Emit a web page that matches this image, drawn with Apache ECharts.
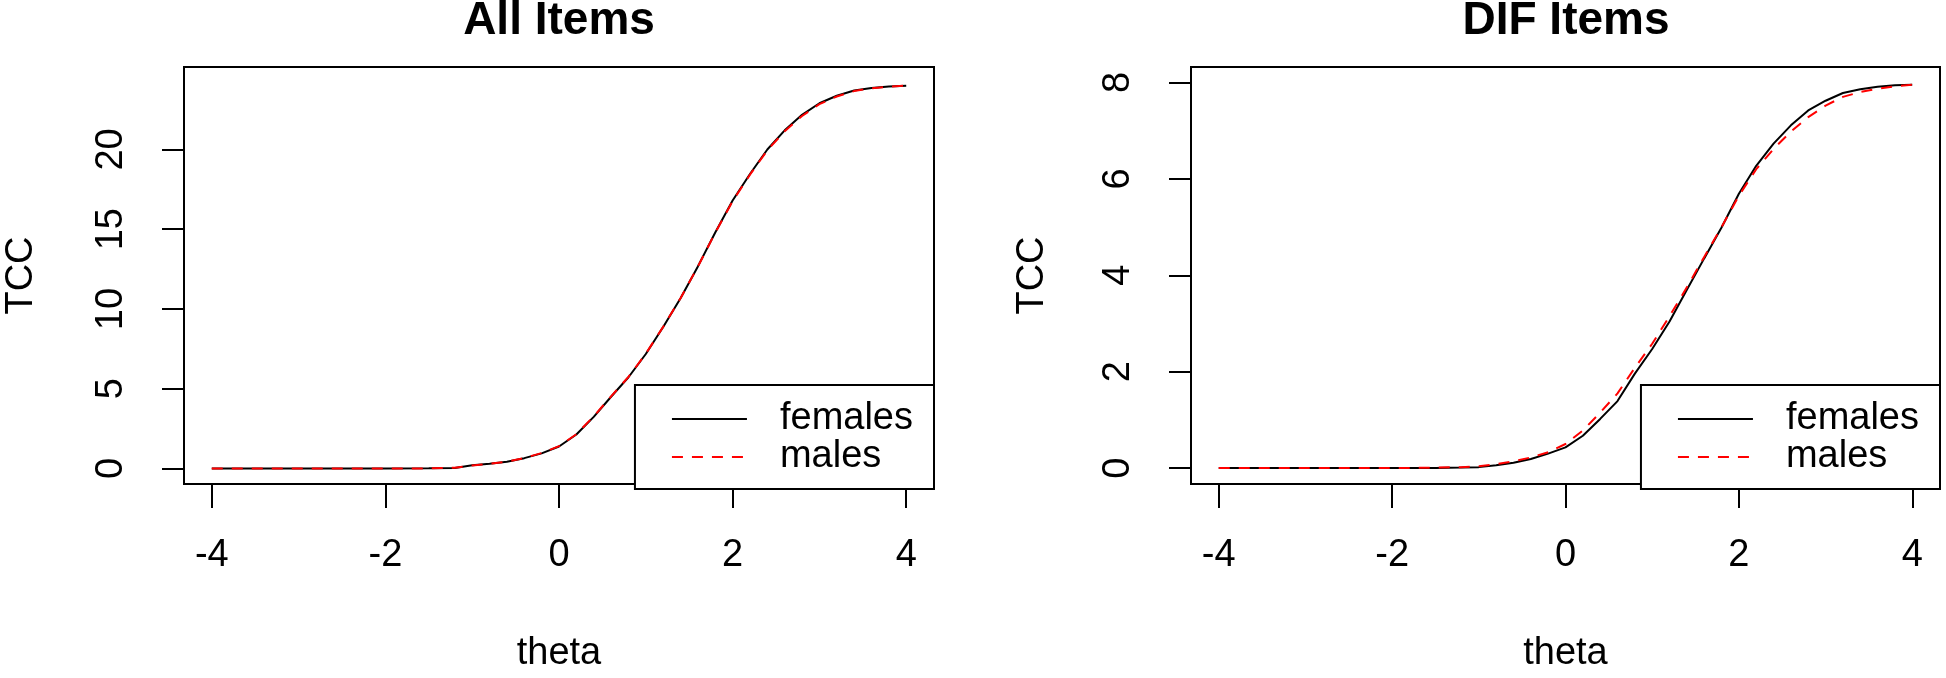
<!DOCTYPE html>
<html>
<head>
<meta charset="utf-8">
<script src="https://cdn.jsdelivr.net/npm/echarts@6/dist/echarts.min.js"></script>
<style>
html,body{margin:0;padding:0;background:#fff;}
#chart{width:1946px;height:678px;}
</style>
</head>
<body>
<div id="chart"></div>
<script>
// theta grid
const theta = [-4, -3.5, -3, -2.5, -2, -1.5, -1.2, -1.0, -0.8, -0.6, -0.4, -0.2, 0, 0.2, 0.4, 0.6, 0.8, 1.0, 1.2, 1.4, 1.6, 1.8, 2.0, 2.2, 2.4, 2.6, 2.8, 3.0, 3.2, 3.4, 3.6, 3.8, 4.0];
// All Items TCC
const allFemales = [0, 0, 0, 0, 0, 0.01, 0.04, 0.2, 0.3, 0.42, 0.65, 0.95, 1.38, 2.13, 3.24, 4.5, 5.72, 7.18, 8.87, 10.68, 12.67, 14.8, 16.8, 18.46, 20.0, 21.2, 22.17, 22.9, 23.37, 23.7, 23.86, 23.95, 24.0];
const allMales   = [0, 0, 0, 0, 0, 0.01, 0.05, 0.19, 0.3, 0.43, 0.66, 0.97, 1.4, 2.15, 3.27, 4.52, 5.74, 7.2, 8.88, 10.68, 12.66, 14.78, 16.76, 18.42, 19.95, 21.14, 22.1, 22.84, 23.32, 23.66, 23.84, 23.94, 24.0];
// DIF Items TCC
const difFemales = [0, 0, 0, 0, 0, 0, 0.01, 0.02, 0.06, 0.11, 0.19, 0.3, 0.43, 0.67, 1.02, 1.39, 1.96, 2.47, 3.04, 3.7, 4.35, 4.99, 5.69, 6.27, 6.73, 7.11, 7.42, 7.62, 7.78, 7.86, 7.91, 7.94, 7.95];
const difMales   = [0, 0, 0, 0, 0, 0.01, 0.02, 0.04, 0.08, 0.14, 0.22, 0.33, 0.5, 0.78, 1.15, 1.55, 2.08, 2.58, 3.15, 3.75, 4.38, 5.0, 5.65, 6.2, 6.62, 6.98, 7.28, 7.52, 7.7, 7.8, 7.87, 7.92, 7.95];

const xTicks = [-4, -2, 0, 2, 4];
const yTicksAll = [0, 5, 10, 15, 20];
const yTicksDif = [0, 2, 4, 6, 8];
const titles = ['All Items', 'DIF Items'];
const seriesNames = ['females', 'males'];

const FONT = "'Liberation Sans', Arial, sans-serif";
const pair = (xs, ys) => xs.map((x, i) => [x, ys[i]]);

function xAxisCfg(gi) {
  return {
    gridIndex: gi, type: 'value', min: -4.32, max: 4.32, position: 'bottom',
    name: 'theta', nameLocation: 'middle', nameGap: 151,
    nameTextStyle: {fontFamily: FONT, fontSize: 38, color: '#000'},
    axisLine: {show: false, onZero: false},
    axisTick: {show: true, customValues: xTicks, length: 24, lineStyle: {color: '#000', width: 2}},
    axisLabel: {customValues: xTicks, margin: 53, fontFamily: FONT, fontSize: 38, color: '#000'},
    splitLine: {show: false}
  };
}
function yAxisCfg(gi, min, max, ticks, gap) {
  return {
    gridIndex: gi, type: 'value', min: min, max: max, position: 'left',
    name: 'TCC', nameLocation: 'middle', nameGap: gap,
    nameTextStyle: {fontFamily: FONT, fontSize: 38, color: '#000'},
    axisLine: {show: false, onZero: false},
    axisTick: {show: true, customValues: ticks, length: 22, lineStyle: {color: '#000', width: 2}},
    axisLabel: {customValues: ticks, rotate: 90, margin: 53, fontFamily: FONT, fontSize: 38, color: '#000'},
    splitLine: {show: false}
  };
}
function legendCfg(rightPx) {
  return {
    orient: 'vertical', right: rightPx, bottom: 189,
    data: seriesNames,
    itemWidth: 75, itemHeight: 14, itemGap: 0,
    padding: [15, 21, 13, 36],
    borderColor: '#000', borderWidth: 2, borderRadius: 0,
    backgroundColor: '#fff',
    itemStyle: {opacity: 0, borderWidth: 0},
    textStyle: {fontFamily: FONT, fontSize: 38, lineHeight: 33, color: '#000', padding: [0, 0, 0, 28]},
    selectedMode: false
  };
}
function lineSeries(name, gi, data, dashed) {
  return {
    name: name, type: 'line', xAxisIndex: gi, yAxisIndex: gi,
    data: data, symbol: 'none', showSymbol: false, animation: false,
    lineStyle: dashed ? {color: '#ff0000', width: 2, type: [11, 9]} : {color: '#000', width: 2},
    itemStyle: {color: dashed ? '#ff0000' : '#000'}
  };
}

const chart = echarts.init(document.getElementById('chart'), null, {renderer: 'canvas'});
chart.setOption({
  animation: false,
  backgroundColor: '#fff',
  title: [
    {text: titles[0], left: 559, top: -2, textAlign: 'center', padding: 0,
     textStyle: {fontFamily: FONT, fontSize: 46, fontWeight: 'bold', color: '#000'}},
    {text: titles[1], left: 1566, top: -2, textAlign: 'center', padding: 0,
     textStyle: {fontFamily: FONT, fontSize: 46, fontWeight: 'bold', color: '#000'}}
  ],
  grid: [
    {left: 184, top: 67, width: 750, height: 422, show: true, borderColor: '#000', borderWidth: 2, backgroundColor: 'transparent'},
    {left: 1191, top: 67, width: 749, height: 422, show: true, borderColor: '#000', borderWidth: 2, backgroundColor: 'transparent'}
  ],
  xAxis: [xAxisCfg(0), xAxisCfg(1)],
  yAxis: [yAxisCfg(0, -0.97, 25.17, yTicksAll, 143), yAxisCfg(1, -0.33, 8.32, yTicksDif, 139)],
  legend: [legendCfg(1946 - 934), legendCfg(1946 - 1940)],
  series: [
    lineSeries(seriesNames[0], 0, pair(theta, allFemales), false),
    lineSeries(seriesNames[1], 0, pair(theta, allMales), true),
    lineSeries(seriesNames[0], 1, pair(theta, difFemales), false),
    lineSeries(seriesNames[1], 1, pair(theta, difMales), true)
  ]
});
</script>
</body>
</html>
